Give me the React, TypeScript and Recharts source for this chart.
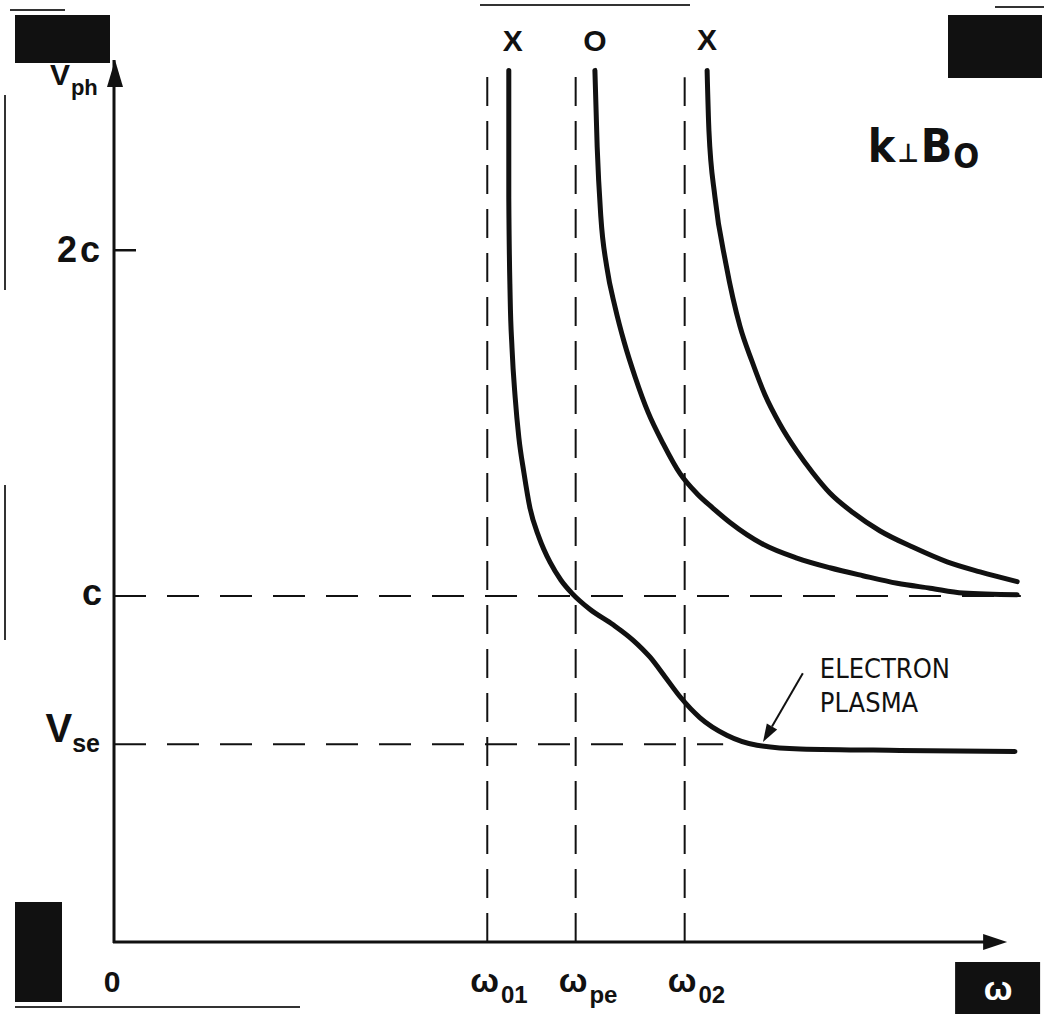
import React from "react";
import { LineChart, Line, XAxis, YAxis, ReferenceLine, ReferenceDot } from "recharts";

// omega in units of w_pe, phase velocity in units of c
const W_O1 = 0.815;
const W_PE = 1.008;
const W_O2 = 1.246;
const V_SE = 0.572;
const W_MAX = 2;
const V_MAX = 2.55;

const xTicks = [0, W_O1, W_PE, W_O2];
const xTickMain = ["0", "ω", "ω", "ω"];
const xTickSub = ["", "01", "pe", "02"];

const yTicks = [V_SE, 1, 2];
const yTickMain = ["V", "c", "2c"];
const yTickSub = ["se", "", ""];

// lower X branch (becomes the electron plasma wave)
const lowerXw = [0.862, 0.862, 0.865, 0.869, 0.876, 0.884, 0.895, 0.908, 0.928, 0.952, 0.976, 1.0, 1.039, 1.09, 1.133, 1.17, 1.203, 1.236, 1.279, 1.338, 1.404, 1.498, 1.716, 1.967];
const lowerXv = [2.52, 2.152, 1.862, 1.718, 1.573, 1.458, 1.357, 1.256, 1.17, 1.098, 1.046, 1.008, 0.962, 0.917, 0.873, 0.824, 0.767, 0.709, 0.649, 0.598, 0.569, 0.558, 0.554, 0.551];

// O mode
const oModeW = [1.05, 1.055, 1.063, 1.076, 1.094, 1.114, 1.138, 1.166, 1.199, 1.236, 1.273, 1.308, 1.345, 1.417, 1.491, 1.563, 1.635, 1.71, 1.782, 1.854, 1.972];
const oModeV = [2.52, 2.298, 2.096, 1.951, 1.836, 1.734, 1.633, 1.532, 1.441, 1.354, 1.296, 1.254, 1.213, 1.15, 1.11, 1.082, 1.059, 1.037, 1.023, 1.009, 1.004];

// upper X branch
const upperXw = [1.295, 1.299, 1.312, 1.336, 1.367, 1.393, 1.421, 1.454, 1.491, 1.526, 1.563, 1.614, 1.672, 1.745, 1.819, 1.891, 1.972];
const upperXv = [2.52, 2.345, 2.155, 1.961, 1.779, 1.679, 1.583, 1.497, 1.419, 1.356, 1.298, 1.241, 1.189, 1.141, 1.099, 1.07, 1.042];

const zip = (w: number[], v: number[]) => w.map((x, i) => ({ w: x, v: v[i] }));
const lowerX = zip(lowerXw, lowerXv);
const oMode = zip(oModeW, oModeV);
const upperX = zip(upperXw, upperXv);

const FONT = '"Liberation Sans", Arial, sans-serif';
const NARROW = '"Liberation Sans Narrow", "DejaVu Sans Condensed", "Liberation Sans", sans-serif';
const INK = "#111";

const XTick = ({ x, y, payload, index }: any) => {
  let i = xTicks.indexOf(payload?.value);
  if (i < 0) i = index ?? 0;
  if (i === 0) {
    return (
      <text x={x - 2} y={y + 50} textAnchor="middle" fontFamily={FONT} fontWeight={700} fontSize={30} fill={INK}>
        {xTickMain[0]}
      </text>
    );
  }
  return (
    <text x={x - 17} y={y + 50} textAnchor="start" fontFamily={FONT} fontWeight={700} fontSize={34} fill={INK}>
      {xTickMain[i]}
      <tspan dx={2} dy={11} fontSize={24}>{xTickSub[i]}</tspan>
    </text>
  );
};

const YTick = ({ x, y, payload }: any) => {
  const i = yTicks.indexOf(payload?.value);
  if (i === 2) {
    return (
      <g>
        <line x1={x} x2={x + 22} y1={y} y2={y} stroke={INK} strokeWidth={2.5} />
        <text x={x - 11} y={y + 12} textAnchor="end" fontFamily={FONT} fontWeight={700} fontSize={36} letterSpacing={3} fill={INK}>
          {yTickMain[i]}
        </text>
      </g>
    );
  }
  if (i === 1) {
    return (
      <text x={x - 12} y={y + 9} textAnchor="end" fontFamily={FONT} fontWeight={700} fontSize={36} fill={INK}>
        {yTickMain[i]}
      </text>
    );
  }
  return (
    <text x={x - 14} y={y - 2} textAnchor="end" fontFamily={FONT} fontWeight={700} fontSize={40} fill={INK}>
      {yTickMain[0]}
      <tspan dy={10} fontSize={25}>{yTickSub[0]}</tspan>
    </text>
  );
};

const yArrow = (p: any) => (
  <path d={`M${p.cx + 1},${p.cy} L${p.cx - 7},${p.cy + 27} L${p.cx + 9},${p.cy + 27} Z`} fill={INK} />
);

const yAxisShape = (p: any) => (
  <line x1={p.x1} y1={p.y1 + 1} x2={p.x2} y2={p.y2} stroke={INK} strokeWidth={3} />
);

const xAxisShape = (p: any) => (
  <g>
    <line x1={p.x1 - 1} y1={p.y1} x2={p.x2 - 20} y2={p.y2} stroke={INK} strokeWidth={3} />
    <path d={`M${p.x2},${p.y2} L${p.x2 - 24},${p.y2 - 8} L${p.x2 - 24},${p.y2 + 8} Z`} fill={INK} />
    <rect x={p.x2 - 52} y={p.y2 + 20} width={85} height={52} fill={INK} />
    <text x={p.x2 - 9} y={p.y2 + 58} textAnchor="middle" fontFamily={FONT} fontWeight={700} fontSize={34} fill="#fff">
      ω
    </text>
  </g>
);

const plasmaArrow = (p: any) => {
  const dx = p.x2 - p.x1;
  const dy = p.y2 - p.y1;
  const len = Math.sqrt(dx * dx + dy * dy);
  const ux = dx / len;
  const uy = dy / len;
  const bx = p.x2 - ux * 18;
  const by = p.y2 - uy * 18;
  return (
    <g>
      <line x1={p.x1} y1={p.y1} x2={bx} y2={by} stroke={INK} strokeWidth={2} />
      <path d={`M${p.x2},${p.y2} L${bx - uy * 6},${by + ux * 6} L${bx + uy * 6},${by - ux * 6} Z`} fill={INK} />
      <text x={p.x1 + 17} y={p.y1 + 5} fontFamily={NARROW} fontSize={27} fill={INK}>ELECTRON</text>
      <text x={p.x1 + 17} y={p.y1 + 39} fontFamily={NARROW} fontSize={27} fill={INK}>PLASMA</text>
    </g>
  );
};

const modeLabel = (label: string, dx: number, dy: number) => (p: any) => (
  <text x={p.cx + dx} y={p.cy + dy} textAnchor="middle" fontFamily={FONT} fontWeight={700} fontSize={30} fill={INK}>
    {label}
  </text>
);

const kPerpB = (p: any) => (
  <text x={p.cx} y={p.cy} fontFamily={NARROW} fontWeight={700} fontSize={46} fill={INK}>
    k<tspan fontSize={26} dx={2}>⊥</tspan>
    <tspan dx={2}>B</tspan>
    <tspan fontSize={34} dx={1} dy={6}>O</tspan>
  </text>
);

const vphLabel = (p: any) => (
  <text x={p.cx} y={p.cy} fontFamily={FONT} fontWeight={700} fontSize={30} fill={INK}>
    V<tspan fontSize={22} dx={1} dy={10}>ph</tspan>
  </text>
);

const blob = (left: number, top: number, width: number, height: number): React.CSSProperties => ({
  position: "absolute",
  left,
  top,
  width,
  height,
  background: INK,
});

const edge = (left: number, top: number, width: number, height: number): React.CSSProperties => ({
  position: "absolute",
  left,
  top,
  width,
  height,
  background: "#333",
});

const vDash = "29 15";
const hDash = "32 21";

export default function App() {
  return (
    <div style={{ position: "absolute", left: 0, top: 0, width: 1044, height: 1014, background: "#fff", overflow: "hidden" }}>
      <LineChart width={1044} height={1014} margin={{ top: 60, right: 14, bottom: 71, left: 113 }}>
        <XAxis
          type="number"
          dataKey="w"
          domain={[0, W_MAX]}
          ticks={xTicks}
          interval={0}
          height={1}
          axisLine={false}
          tickLine={false}
          tickSize={0}
          tickMargin={0}
          tick={<XTick />}
          allowDataOverflow
        />
        <YAxis
          type="number"
          dataKey="v"
          domain={[0, V_MAX]}
          ticks={yTicks}
          interval={0}
          width={1}
          axisLine={false}
          tickLine={false}
          tickSize={0}
          tickMargin={0}
          tick={<YTick />}
          allowDataOverflow
        />

        <ReferenceLine segment={[{ x: W_O1, y: 0 }, { x: W_O1, y: 2.52 }]} stroke={INK} strokeWidth={2} strokeDasharray={vDash} ifOverflow="visible" />
        <ReferenceLine segment={[{ x: W_PE, y: 0 }, { x: W_PE, y: 2.52 }]} stroke={INK} strokeWidth={2} strokeDasharray={vDash} ifOverflow="visible" />
        <ReferenceLine segment={[{ x: W_O2, y: 0 }, { x: W_O2, y: 2.5 }]} stroke={INK} strokeWidth={2} strokeDasharray={vDash} ifOverflow="visible" />
        <ReferenceLine segment={[{ x: 0, y: 1 }, { x: 1.98, y: 1 }]} stroke={INK} strokeWidth={2} strokeDasharray={hDash} ifOverflow="visible" />
        <ReferenceLine segment={[{ x: 0, y: V_SE }, { x: 1.33, y: V_SE }]} stroke={INK} strokeWidth={2} strokeDasharray={hDash} ifOverflow="visible" />

        <ReferenceLine segment={[{ x: 0, y: 0 }, { x: 0, y: V_MAX }]} shape={yAxisShape} ifOverflow="visible" />
        <ReferenceLine segment={[{ x: 0, y: 0 }, { x: 1.95, y: 0 }]} shape={xAxisShape} ifOverflow="visible" />
        <ReferenceDot x={0} y={V_MAX} r={0} shape={yArrow} ifOverflow="visible" />

        <Line data={lowerX} dataKey="v" type="monotone" stroke={INK} strokeWidth={5} strokeLinecap="round" dot={false} isAnimationActive={false} />
        <Line data={oMode} dataKey="v" type="monotone" stroke={INK} strokeWidth={5} strokeLinecap="round" dot={false} isAnimationActive={false} />
        <Line data={upperX} dataKey="v" type="monotone" stroke={INK} strokeWidth={5} strokeLinecap="round" dot={false} isAnimationActive={false} />

        <ReferenceDot x={lowerXw[0]} y={lowerXv[0]} r={0} shape={modeLabel("X", 4, -19)} ifOverflow="visible" />
        <ReferenceDot x={oModeW[0]} y={oModeV[0]} r={0} shape={modeLabel("O", 0, -19)} ifOverflow="visible" />
        <ReferenceDot x={upperXw[0]} y={upperXv[0]} r={0} shape={modeLabel("X", 0, -20)} ifOverflow="visible" />

        <ReferenceLine segment={[{ x: 1.504, y: 0.777 }, { x: 1.417, y: 0.578 }]} shape={plasmaArrow} ifOverflow="visible" />

        <ReferenceDot x={1.646} y={2.254} r={0} shape={kPerpB} ifOverflow="visible" />
        <ReferenceDot x={-0.14} y={2.477} r={0} shape={vphLabel} ifOverflow="visible" />
      </LineChart>

      <div style={blob(15, 15, 95, 48)} />
      <div style={blob(948, 15, 94, 63)} />
      <div style={blob(15, 902, 47, 100)} />
      <div style={edge(10, 9, 55, 2)} />
      <div style={edge(480, 4, 210, 2)} />
      <div style={edge(995, 6, 49, 2)} />
      <div style={edge(15, 1006, 285, 2)} />
      <div style={edge(4, 95, 2, 195)} />
      <div style={edge(4, 485, 2, 155)} />
    </div>
  );
}
